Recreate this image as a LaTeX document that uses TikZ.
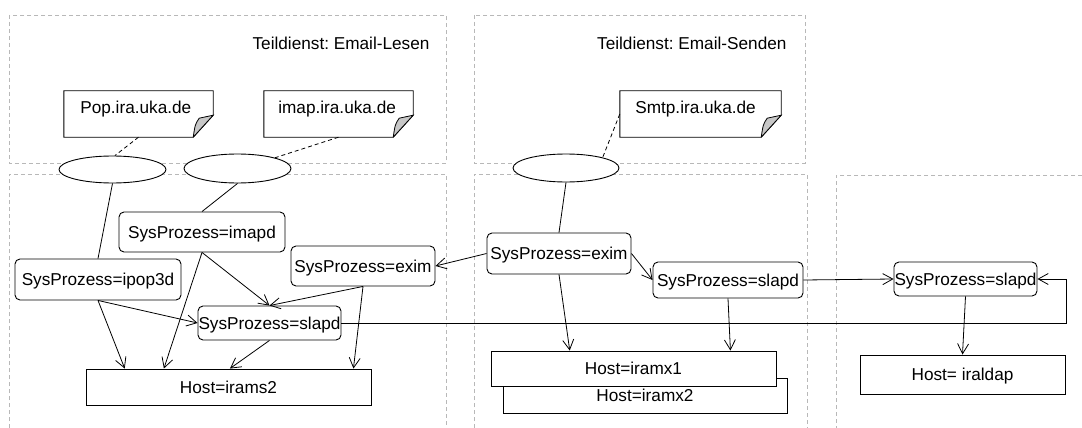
\documentclass[tikz,border=0pt]{standalone}
\usepackage{fontspec}
\setmainfont{Liberation Sans}
\usetikzlibrary{arrows.meta,shapes.geometric,calc}
\frenchspacing

% note sheet with a folded lower right corner, drawn around a named node
\newcommand\drawnote[1]{%
  \draw[line width=0.9pt, fill=white] (#1.north west) -- (#1.north east)
    -- ($(#1.south east)+(0,-22)$) -- ($(#1.south east)+(-20,0)$)
    -- (#1.south west) -- cycle;
  \draw[line width=0.8pt, fill=black!22] ($(#1.south east)+(-20,0)$)
    -- ($(#1.south east)+(0,-22)$) -- ($(#1.south east)+(-14,-19)$)
    .. controls ($(#1.south east)+(-18,-13)$) .. ($(#1.south east)+(-20,0)$);
}

\begin{document}
\begin{tikzpicture}[x=1pt,y=-1pt,
  font=\fontsize{17.2pt}{20pt}\selectfont,
  grp/.style={draw=black!28, dash pattern=on 4pt off 3pt, line width=0.8pt},
  proc/.style={draw, rounded corners=5pt, fill=white, inner sep=0pt,
    line width=0.9pt, text height=12.5pt, text depth=0.5pt},
  hostbox/.style={draw, fill=white, inner sep=0pt, line width=0.9pt,
    text height=12.5pt, text depth=0.5pt},
  oval/.style={draw, ellipse, fill=white, inner sep=0pt, line width=0.9pt},
  sheet/.style={inner sep=0pt, minimum width=149pt, minimum height=46pt},
  link/.style={line width=0.8pt},
  arr/.style={line width=0.8pt, -{Straight Barb[length=10pt,width=11pt]}},
  notelink/.style={line width=0.8pt, dash pattern=on 4pt off 3pt},
]
\fill[white] (0,0) rectangle (1082,428);
\useasboundingbox (0,0) rectangle (1082,428);

% service groups
\draw[grp] (9,15) rectangle (446,163);
\draw[grp] (474,15) rectangle (805,163);
\draw[grp] (9,428) -- (9,174) -- (446,174) -- (446,428);
\draw[grp] (474,428) -- (474,174) -- (807,174) -- (807,428);
\draw[grp] (1082,175) -- (836,175) -- (836,428);

\node[anchor=base east] (tlesen) at (433,50) {Teildienst: Email-Lesen};
\node[anchor=base east] (tsenden) at (790,50) {Teildienst: Email-Senden};

% host name sheets
\node[sheet] (pop) at (138.5,114) {};
\node[sheet] (imap) at (338.5,114) {};
\node[sheet, minimum width=161pt] (smtp) at (700.5,114) {};
\drawnote{pop}
\drawnote{imap}
\drawnote{smtp}
\node[anchor=base west] (poplabel) at ($(pop.north west)+(13,23)$) {Pop.ira.uka.de};
\node[anchor=base west] (imaplabel) at ($(imap.north west)+(11,23)$) {imap.ira.uka.de};
\node[anchor=base west] (smtplabel) at ($(smtp.north west)+(12,23)$) {Smtp.ira.uka.de};

% service access points
\node[oval, minimum width=107pt, minimum height=27pt] (e1) at (112.5,169.5) {};
\node[oval, minimum width=107pt, minimum height=29pt] (e2) at (237.5,168.5) {};
\node[oval, minimum width=106pt, minimum height=28pt] (e3) at (566,168) {};

\draw[notelink] (pop.south) -- (e1.80);
\draw[notelink] (imap.south) -- (e2.16);
\draw[notelink] (smtp.west) -- (e3.16);

% hosts
\node[hostbox, minimum width=285pt, minimum height=36pt] (irams2) at (228.5,387) {Host=irams2};
\node[hostbox, minimum width=284pt, minimum height=35pt] (iramx2) at (645,395.5) {Host=iramx2};
\node[hostbox, minimum width=285pt, minimum height=35pt] (iramx1) at (633.5,368.5) {Host=iramx1};
\node[hostbox, minimum width=205pt, minimum height=39pt] (iraldap) at (962.5,374.5) {Host= iraldap};

% system processes
\node[proc, minimum width=166pt, minimum height=40pt] (imapd) at (202,232) {SysProzess=imapd};
\node[proc, minimum width=166pt, minimum height=41pt] (ipop) at (98,279.5) {SysProzess=ipop3d};
\node[proc, minimum width=144pt, minimum height=40pt] (eximL) at (363,266) {SysProzess=exim};
\node[proc, minimum width=143pt, minimum height=34pt] (slapdL) at (269.5,323) {SysProzess=slapd};
\node[proc, minimum width=144pt, minimum height=41pt] (eximM) at (559,253.5) {SysProzess=exim};
\node[proc, minimum width=150pt, minimum height=36pt] (slapdM) at (728,280) {SysProzess=slapd};
\node[proc, minimum width=143pt, minimum height=34pt] (slapdR) at (965.5,279) {SysProzess=slapd};

% access points to processes
\draw[link] (e1.south) -- (ipop.north);
\draw[link] (e2.south) -- (imapd.north);
\draw[link] (e3.south) -- (eximM.north);

% dependencies
\draw[arr] (ipop.south) -- ($(irams2.north west)!0.137!(irams2.north east)$);
\draw[arr] (ipop.south) -- (slapdL.west);
\draw[arr] (imapd.south) -- ($(irams2.north west)!0.274!(irams2.north east)$);
\draw[arr] (imapd.south) -- (slapdL.north);
\draw[arr] (eximL.south) -- (slapdL.north);
\draw[arr] (eximL.south) -- ($(irams2.north west)!0.937!(irams2.north east)$);
\draw[arr] (slapdL.south) -- ($(irams2.north west)!0.505!(irams2.north east)$);
\draw[arr] (eximM.west) -- (eximL.east);
\draw[arr] (eximM.east) -- (slapdM.west);
\draw[arr] (eximM.south) -- ($(iramx1.north west)!0.277!(iramx1.north east)$);
\draw[arr] (slapdM.south) -- ($(iramx1.north west)!0.839!(iramx1.north east)$);
\draw[arr] (slapdM.east) -- (slapdR.west);
\draw[arr] (slapdR.south) -- (iraldap.north);
\coordinate (loopx) at (1066,0);
\draw[arr] (slapdL.east) -- (slapdL.east -| loopx) |- (slapdR.east);
\end{tikzpicture}
\end{document}
